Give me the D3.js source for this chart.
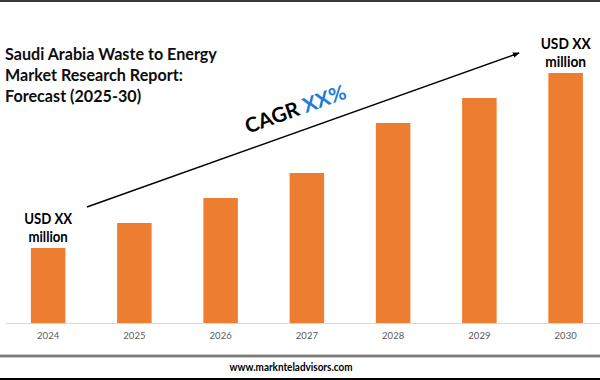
<!DOCTYPE html>
<html>
<head>
<meta charset="utf-8">
<script src="https://cdn.jsdelivr.net/npm/d3@7"></script>
<style>
  html, body { margin: 0; padding: 0; background: #fff; }
  svg { display: block; }
</style>
</head>
<body>
<svg id="chart" width="600" height="380"></svg>
<script>
// ---- data ----
const years = ["2024", "2025", "2026", "2027", "2028", "2029", "2030"];
const values = [3, 4, 5, 6, 8, 9, 10];
const titleLines = ["Saudi Arabia Waste to Energy", "Market Research Report:", "Forecast (2025-30)"];
const startLabel = ["USD XX", "million"];
const endLabel = ["USD XX", "million"];
const cagrParts = ["CAGR ", "XX%"];
const footerText = "www.marknteladvisors.com";

// ---- setup ----
const W = 600, H = 380;
const FONT = "Lato, 'Open Sans', sans-serif";
const svg = d3.select("#chart");

// condense a text horizontally so that it spans the target width (Calibri-like proportions)
function squeeze(g, textSel, target) {
  const w = textSel.node().getComputedTextLength();
  return target / w;
}

const x = d3.scaleBand().domain(years).range([5, 608.75]).paddingInner(0.6).paddingOuter(0.3);
const y = d3.scaleLinear().domain([0, 10]).range([323, 73]);

// frame lines
svg.append("rect").attr("x", 0).attr("y", 0).attr("width", W).attr("height", 2).attr("fill", "#3a3a3a");
svg.append("rect").attr("x", 0).attr("y", 354).attr("width", W).attr("height", 4).attr("fill", "#c8c8c8");
svg.append("rect").attr("x", 0).attr("y", 355).attr("width", W).attr("height", 2).attr("fill", "#7a7a7a");
svg.append("rect").attr("x", 0).attr("y", 378).attr("width", W).attr("height", 2).attr("fill", "#000");

// bars
svg.append("g").selectAll("rect")
  .data(years.map((yr, i) => ({ yr, v: values[i] })))
  .join("rect")
  .attr("x", d => x(d.yr))
  .attr("y", d => y(d.v))
  .attr("width", x.bandwidth())
  .attr("height", d => y(0) - y(d.v))
  .attr("fill", "#ED7D31");

// axis
const axis = svg.append("g")
  .attr("transform", `translate(0,${y(0)})`)
  .call(d3.axisBottom(x).tickSize(0).tickSizeOuter(0).tickPadding(9));
axis.select(".domain").attr("stroke", "#d9d9d9").attr("stroke-width", 1.2);
axis.selectAll("text")
  .attr("fill", "#595959")
  .attr("font-family", FONT)
  .attr("font-size", 9.5);

// title
const tG = svg.append("g");
const tInner = tG.append("g");
const tTexts = titleLines.map((t, i) =>
  tInner.append("text").attr("x", 0).attr("y", 60 + i * 21)
    .attr("font-family", FONT).attr("font-weight", 700)
    .attr("font-size", 16.5).attr("fill", "#0d0d0d").text(t));
const tr = squeeze(tG, tTexts[0], 212);
tG.attr("transform", `translate(5,0) scale(${tr},1)`);

// value labels
function valueLabel(lines, yr, v, width) {
  const cx = x(yr) + x.bandwidth() / 2;
  const top = y(v);
  const g = svg.append("g");
  const a = g.append("text").attr("x", 0).attr("y", top - 23.5)
    .attr("text-anchor", "middle").attr("font-family", FONT).attr("font-weight", 700)
    .attr("font-size", 15.5).attr("fill", "#000").text(lines[0]);
  g.append("text").attr("x", 0).attr("y", top - 6)
    .attr("text-anchor", "middle").attr("font-family", FONT).attr("font-weight", 700)
    .attr("font-size", 15.5).attr("fill", "#000").text(lines[1]);
  const r = squeeze(g, a, width);
  g.attr("transform", `translate(${cx},0) scale(${r},1)`);
}
valueLabel(startLabel, years[0], values[0], 48);
valueLabel(endLabel, years[6], values[6], 50);

// arrow
const step = x.step();
const c0 = x(years[0]) + x.bandwidth() / 2;
const c6 = x(years[6]) + x.bandwidth() / 2;
const p0 = [c0 + step * 0.45, y(4.64)];
const p1 = [c6 - step * 0.54, y(10.8)];
svg.append("defs").append("marker")
  .attr("id", "ah").attr("viewBox", "0 0 10 10").attr("refX", 9).attr("refY", 5)
  .attr("markerWidth", 7).attr("markerHeight", 7).attr("orient", "auto")
  .attr("markerUnits", "userSpaceOnUse")
  .append("path").attr("d", "M0,1 L10,5 L0,9 Z").attr("fill", "#000");
svg.append("line")
  .attr("x1", p0[0]).attr("y1", p0[1]).attr("x2", p1[0]).attr("y2", p1[1])
  .attr("stroke", "#000").attr("stroke-width", 1.5).attr("marker-end", "url(#ah)");

// CAGR text along the arrow
const ang = Math.atan2(p1[1] - p0[1], p1[0] - p0[0]);
const mid = [(p0[0] + p1[0]) / 2, (p0[1] + p1[1]) / 2];
const off = 15;
const tc = [mid[0] + off * Math.sin(ang), mid[1] - off * Math.cos(ang)];
const cG = svg.append("g");
const cg = cG.append("text")
  .attr("text-anchor", "middle").attr("font-family", FONT).attr("font-weight", 700)
  .attr("font-size", 20.5);
cg.append("tspan").attr("fill", "#000").text(cagrParts[0]);
cg.append("tspan").attr("fill", "#1C7ED6").text(cagrParts[1]);
const cr = squeeze(cG, cg, 106);
cG.attr("transform", `translate(${tc[0]},${tc[1]}) rotate(${ang * 180 / Math.PI}) scale(${cr},1)`);

// footer
const fG = svg.append("g");
const ft = fG.append("text").attr("x", 0).attr("y", 371)
  .attr("text-anchor", "middle").attr("font-family", FONT).attr("font-weight", 700)
  .attr("font-size", 11).attr("fill", "#000").text(footerText);
const fr = squeeze(fG, ft, 123);
fG.attr("transform", `translate(291,0) scale(${fr},1)`);
</script>
</body>
</html>
